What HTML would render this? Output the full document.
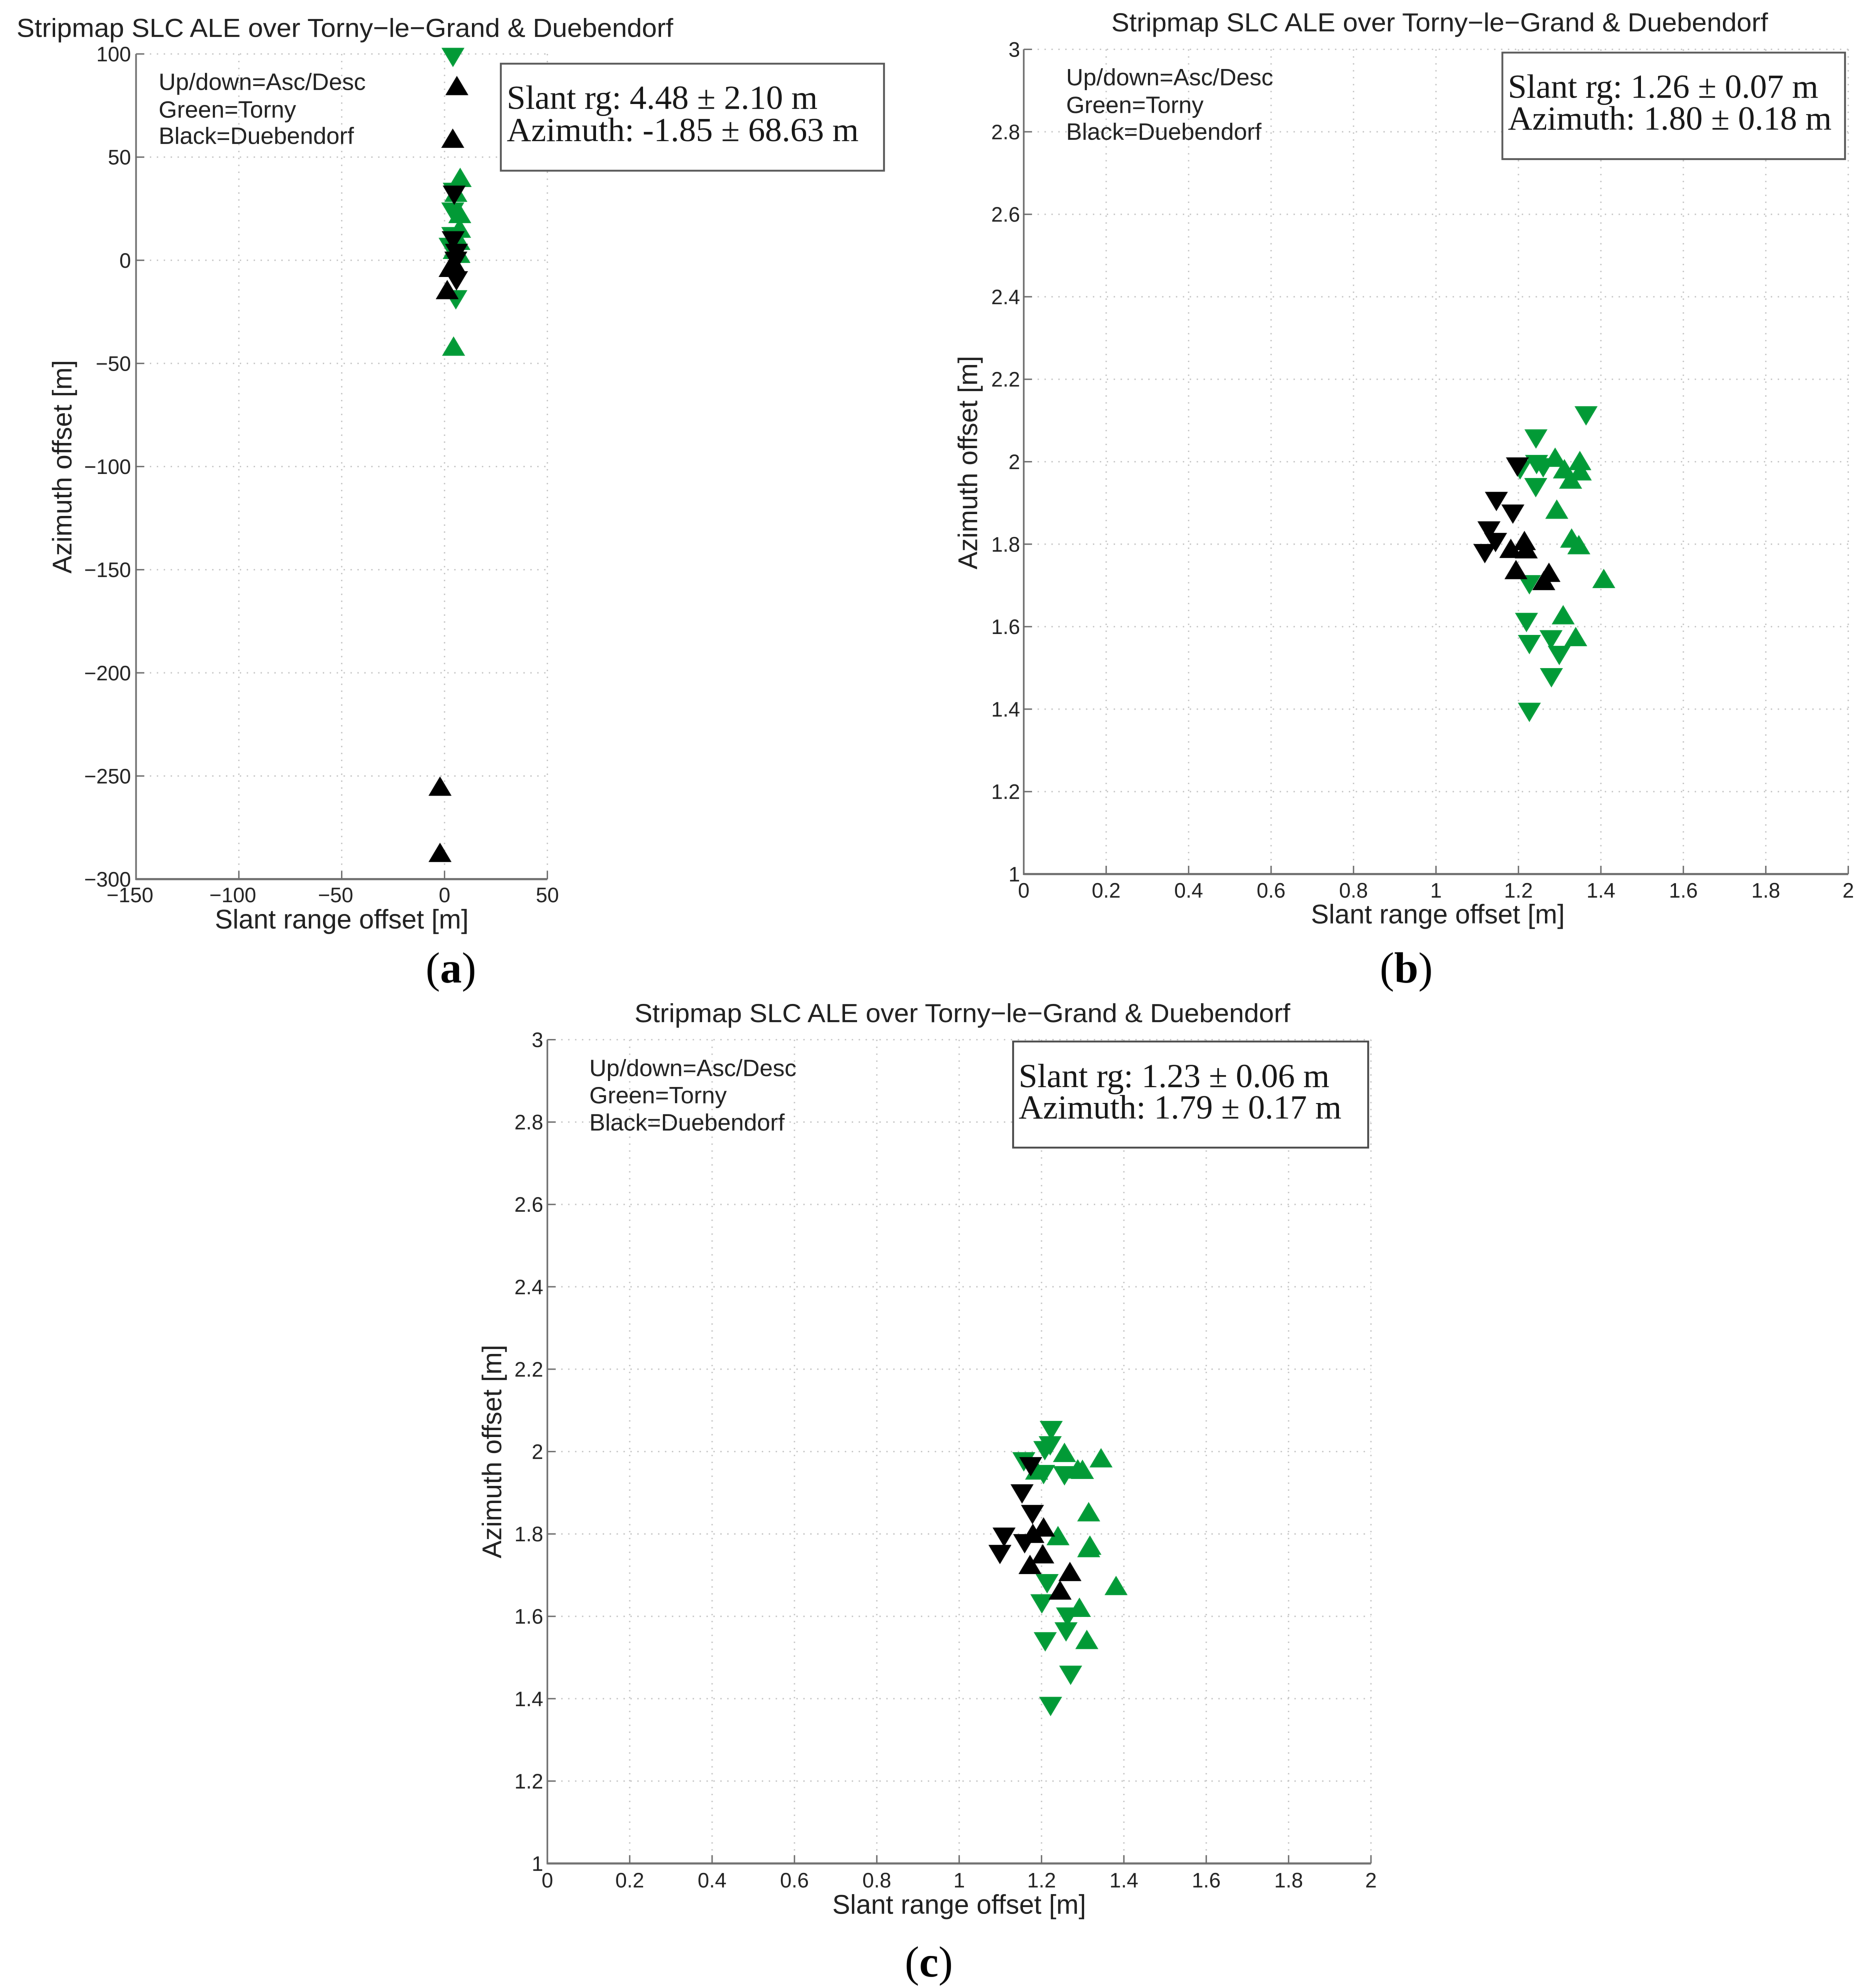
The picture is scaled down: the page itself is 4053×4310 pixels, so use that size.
<!DOCTYPE html>
<html lang="en">
<head>
<meta charset="utf-8">
<title>Stripmap SLC ALE over Torny-le-Grand &amp; Duebendorf</title>
<style>
html,body{margin:0;padding:0;background:#fff;}
svg{display:block;filter:blur(0.9px);}
.sans{font-family:"Liberation Sans",Arial,sans-serif;fill:#1a1a1a;}
.serif{font-family:"Liberation Serif","Times New Roman",serif;fill:#111;}
.title{font-size:57px;}
.axis-label{font-size:58px;}
.note{font-size:51.3px;}
.stat{font-size:73px;}
.caption{font-size:94px;fill:#000;}
</style>
</head>
<body>
<svg id="figure" xmlns="http://www.w3.org/2000/svg" width="4053" height="4310" viewBox="0 0 4053 4310">
  <rect x="0" y="0" width="4053" height="4310" fill="#fff"/>

  <g id="panel-a"></g>
  <g id="panel-b"></g>
  <g id="panel-c"></g>

  <g>
    <text class="sans title" x="36" y="80" textLength="1424" lengthAdjust="spacingAndGlyphs">Stripmap SLC ALE over Torny−le−Grand &amp; Duebendorf</text>
    <text class="sans axis-label" x="741" y="2013" text-anchor="middle">Slant range offset [m]</text>
    <text class="sans axis-label" transform="translate(155 1012) rotate(-90)" text-anchor="middle">Azimuth offset [m]</text>
    <text class="sans note" x="344" y="195">Up/down=Asc/Desc</text>
    <text class="sans note" x="344" y="255">Green=Torny</text>
    <text class="sans note" x="344" y="312">Black=Duebendorf</text>
    <rect x="1086" y="138" width="831" height="232" fill="#fff" stroke="#555" stroke-width="4"/>
    <text class="serif stat" x="1099" y="236" textLength="674" lengthAdjust="spacingAndGlyphs">Slant rg: 4.48 ± 2.10 m</text>
    <text class="serif stat" x="1099" y="306" textLength="763" lengthAdjust="spacingAndGlyphs">Azimuth: -1.85 ± 68.63 m</text>
    <text class="serif caption" x="923" y="2130">(<tspan font-weight="bold">a</tspan>)</text>
  </g>

  <g>
    <text class="sans title" x="2410" y="68" textLength="1424" lengthAdjust="spacingAndGlyphs">Stripmap SLC ALE over Torny−le−Grand &amp; Duebendorf</text>
    <text class="sans axis-label" x="3118" y="2002" text-anchor="middle">Slant range offset [m]</text>
    <text class="sans axis-label" transform="translate(2119 1003) rotate(-90)" text-anchor="middle">Azimuth offset [m]</text>
    <text class="sans note" x="2312" y="185">Up/down=Asc/Desc</text>
    <text class="sans note" x="2312" y="245">Green=Torny</text>
    <text class="sans note" x="2312" y="303">Black=Duebendorf</text>
    <rect x="3258" y="114" width="743" height="231" fill="#fff" stroke="#555" stroke-width="4"/>
    <text class="serif stat" x="3270" y="212" textLength="673" lengthAdjust="spacingAndGlyphs">Slant rg: 1.26 ± 0.07 m</text>
    <text class="serif stat" x="3270" y="281" textLength="702" lengthAdjust="spacingAndGlyphs">Azimuth: 1.80 ± 0.18 m</text>
    <text class="serif caption" x="2992" y="2130">(<tspan font-weight="bold">b</tspan>)</text>
  </g>

  <g>
    <text class="sans title" x="1376" y="2216" textLength="1422" lengthAdjust="spacingAndGlyphs">Stripmap SLC ALE over Torny−le−Grand &amp; Duebendorf</text>
    <text class="sans axis-label" x="2080" y="4149" text-anchor="middle">Slant range offset [m]</text>
    <text class="sans axis-label" transform="translate(1087 3147) rotate(-90)" text-anchor="middle">Azimuth offset [m]</text>
    <text class="sans note" x="1278" y="2333">Up/down=Asc/Desc</text>
    <text class="sans note" x="1278" y="2392">Green=Torny</text>
    <text class="sans note" x="1278" y="2451">Black=Duebendorf</text>
    <rect x="2197" y="2258" width="770" height="230" fill="#fff" stroke="#444" stroke-width="4"/>
    <text class="serif stat" x="2209" y="2357" textLength="674" lengthAdjust="spacingAndGlyphs">Slant rg: 1.23 ± 0.06 m</text>
    <text class="serif stat" x="2209" y="2425" textLength="700" lengthAdjust="spacingAndGlyphs">Azimuth: 1.79 ± 0.17 m</text>
    <text class="serif caption" x="1962" y="4285">(<tspan font-weight="bold">c</tspan>)</text>
  </g>
</svg>

<script>
/* ---------- Panel (a) data ---------- */
const aXTickLabels = ["−150", "−100", "−50", "0", "50"];
const aXTickValues = [-150, -100, -50, 0, 50];
const aYTickLabels = ["100", "50", "0", "−50", "−100", "−150", "−200", "−250", "−300"];
const aYTickValues = [100, 50, 0, -50, -100, -150, -200, -250, -300];
const aGreenDownX = [4.1, 4.7, 4.0, 4.0, 2.7, 5.5];
const aGreenDownY = [98.3, 32.9, 23.3, 11.4, 6.2, -19.2];
const aGreenUpX = [7.6, 4.4, 5.5, 7.4, 7.3, 7.0, 7.0, 4.7];
const aGreenUpY = [40.2, -41.6, 33.0, 22.7, 15.6, 9.7, 3.4, 5.3];
const aBlackDownX = [4.7, 4.2, 5.8, 5.5, 5.8];
const aBlackDownY = [31.5, 9.4, 3.3, -0.5, -10.0];
const aBlackUpX = [6.0, 4.0, 2.7, 1.3, 4.3, -2.2, -2.2];
const aBlackUpY = [84.7, 59.2, -3.4, -14.2, -0.7, -254.9, -287.0];

/* ---------- Panel (b) data ---------- */
const bcXTickLabels = ["0", "0.2", "0.4", "0.6", "0.8", "1", "1.2", "1.4", "1.6", "1.8", "2"];
const bcXTickValues = [0, 0.2, 0.4, 0.6, 0.8, 1, 1.2, 1.4, 1.6, 1.8, 2];
const bcYTickLabels = ["3", "2.8", "2.6", "2.4", "2.2", "2", "1.8", "1.6", "1.4", "1.2", "1"];
const bcYTickValues = [3, 2.8, 2.6, 2.4, 2.2, 2, 1.8, 1.6, 1.4, 1.2, 1];
const bGreenDownX = [1.364, 1.2425, 1.244, 1.204, 1.26, 1.242, 1.2265, 1.2195, 1.2265, 1.279, 1.299, 1.28, 1.2265];
const bGreenDownY = [2.111, 2.055, 1.993, 1.98, 1.985, 1.937, 1.7015, 1.61, 1.5565, 1.568, 1.53, 1.476, 1.392];
const bGreenUpX = [1.289, 1.3115, 1.349, 1.35, 1.3265, 1.293, 1.329, 1.3465, 1.407, 1.3085, 1.339];
const bGreenUpY = [2.011, 1.983, 2.003, 1.978, 1.958, 1.885, 1.815, 1.799, 1.717, 1.629, 1.576];
const bBlackDownX = [1.1975, 1.1465, 1.1865, 1.1285, 1.1445, 1.1185];
const bBlackDownY = [1.987, 1.9035, 1.8727, 1.832, 1.804, 1.777];
const bBlackUpX = [1.1815, 1.2145, 1.219, 1.194, 1.274, 1.2615];
const bBlackUpY = [1.79, 1.809, 1.789, 1.7386, 1.732, 1.712];

/* ---------- Panel (c) data ---------- */
const cGreenDownX = [1.2235, 1.221, 1.208, 1.157, 1.205, 1.2557, 1.2136, 1.2008, 1.263, 1.2595, 1.209, 1.2707, 1.222];
const cGreenDownY = [2.051, 2.0137, 2.002, 1.975, 1.944, 1.941, 1.679, 1.63, 1.598, 1.562, 1.538, 1.4567, 1.381];
const cGreenUpX = [1.2557, 1.288, 1.2994, 1.3445, 1.188, 1.3145, 1.24, 1.3175, 1.3145, 1.381, 1.292, 1.31];
const cGreenUpY = [1.998, 1.958, 1.957, 1.985, 1.9555, 1.854, 1.796, 1.773, 1.767, 1.675, 1.622, 1.544];
const cBlackDownX = [1.1737, 1.1527, 1.178, 1.109, 1.159, 1.099];
const cBlackDownY = [1.963, 1.897, 1.847, 1.792, 1.776, 1.75];
const cBlackUpX = [1.179, 1.205, 1.203, 1.172, 1.269, 1.245];
const cBlackUpY = [1.8016, 1.817, 1.752, 1.726, 1.709, 1.664];

const SVG_NS = "http://www.w3.org/2000/svg";
const GREEN = "#029a36";
const BLACK = "#000000";
const AXIS_COLOR = "#6a6a6a";
const GRID_COLOR = "#c2c2c2";

function linearScale(d0, d1, r0, r1) {
  return function (v) { return r0 + (v - d0) / (d1 - d0) * (r1 - r0); };
}

function addLine(parent, x1, y1, x2, y2, color, width, dash) {
  const line = document.createElementNS(SVG_NS, "line");
  line.setAttribute("x1", x1);
  line.setAttribute("y1", y1);
  line.setAttribute("x2", x2);
  line.setAttribute("y2", y2);
  line.setAttribute("stroke", color);
  line.setAttribute("stroke-width", width);
  if (dash) { line.setAttribute("stroke-dasharray", dash); }
  parent.appendChild(line);
  return line;
}

function addTickText(parent, x, y, anchor, label) {
  const t = document.createElementNS(SVG_NS, "text");
  t.setAttribute("x", x);
  t.setAttribute("y", y);
  t.setAttribute("text-anchor", anchor);
  t.setAttribute("class", "sans");
  t.setAttribute("font-size", "45");
  t.textContent = label;
  parent.appendChild(t);
  return t;
}

function drawMarkers(parent, sx, sy, xs, ys, direction, color, name) {
  const halfW = 25, halfH = 21;
  xs.forEach(function (xv, i) {
    const cx = sx(xv), cy = sy(ys[i]);
    const tipY = direction === "up" ? cy - halfH : cy + halfH;
    const baseY = direction === "up" ? cy + halfH : cy - halfH;
    const tri = document.createElementNS(SVG_NS, "polygon");
    tri.setAttribute("points", cx + "," + tipY + " " + (cx - halfW) + "," + baseY + " " + (cx + halfW) + "," + baseY);
    tri.setAttribute("fill", color);
    
    
    parent.appendChild(tri);
  });
}

function drawPanel(cfg) {
  const root = document.getElementById(cfg.id);
  const sx = linearScale(cfg.xMin, cfg.xMax, cfg.left, cfg.right);
  const sy = linearScale(cfg.yMin, cfg.yMax, cfg.bottom, cfg.top);

  cfg.xTicks.forEach(function (v, i) {
    const x = sx(v);
    if (v !== cfg.xMin) {
      const g = addLine(root, x, cfg.top, x, cfg.bottom, GRID_COLOR, 3, "3 12");
      
      
    }
    const tick = addLine(root, x, cfg.bottom, x, cfg.bottom - 18, AXIS_COLOR, 3);
    
    
    const label = cfg.xLabels[i];
    let lbl;
    if (v < 0) {
      const digits = label.length - 1;
      lbl = addTickText(root, x + digits * 12.5, cfg.bottom + cfg.xLabelGap, "end", label);
    } else {
      lbl = addTickText(root, x, cfg.bottom + cfg.xLabelGap, "middle", label);
    }
    
    
  });

  cfg.yTicks.forEach(function (v, i) {
    const y = sy(v);
    if (v !== cfg.yMin) {
      const g = addLine(root, cfg.left, y, cfg.right, y, GRID_COLOR, 3, "3 12");
      
      
    }
    const tick = addLine(root, cfg.left, y, cfg.left + 18, y, AXIS_COLOR, 3);
    
    
    const lbl = addTickText(root, cfg.left - cfg.yLabelGap, y + 16, "end", cfg.yLabels[i]);
    
    
  });

  const yAxis = addLine(root, cfg.left, cfg.top, cfg.left, cfg.bottom + 2, AXIS_COLOR, 3.5);
  
  
  const xAxis = addLine(root, cfg.left, cfg.bottom, cfg.right, cfg.bottom, AXIS_COLOR, 4.5);
  
  

  drawMarkers(root, sx, sy, cfg.greenDownX, cfg.greenDownY, "down", GREEN, "torny-descending-marker");
  drawMarkers(root, sx, sy, cfg.greenUpX, cfg.greenUpY, "up", GREEN, "torny-ascending-marker");
  drawMarkers(root, sx, sy, cfg.blackDownX, cfg.blackDownY, "down", BLACK, "duebendorf-descending-marker");
  drawMarkers(root, sx, sy, cfg.blackUpX, cfg.blackUpY, "up", BLACK, "duebendorf-ascending-marker");
}

drawPanel({
  id: "panel-a", left: 295, right: 1187, top: 117, bottom: 1906,
  xMin: -150, xMax: 50, yMin: -300, yMax: 100, xLabelGap: 50, yLabelGap: 11,
  xTicks: aXTickValues, xLabels: aXTickLabels, yTicks: aYTickValues, yLabels: aYTickLabels,
  greenDownX: aGreenDownX, greenDownY: aGreenDownY, greenUpX: aGreenUpX, greenUpY: aGreenUpY,
  blackDownX: aBlackDownX, blackDownY: aBlackDownY, blackUpX: aBlackUpX, blackUpY: aBlackUpY
});
drawPanel({
  id: "panel-b", left: 2220, right: 4008, top: 107, bottom: 1895,
  xMin: 0, xMax: 2, yMin: 1, yMax: 3, xLabelGap: 51, yLabelGap: 8,
  xTicks: bcXTickValues, xLabels: bcXTickLabels, yTicks: bcYTickValues, yLabels: bcYTickLabels,
  greenDownX: bGreenDownX, greenDownY: bGreenDownY, greenUpX: bGreenUpX, greenUpY: bGreenUpY,
  blackDownX: bBlackDownX, blackDownY: bBlackDownY, blackUpX: bBlackUpX, blackUpY: bBlackUpY
});
drawPanel({
  id: "panel-c", left: 1187, right: 2973, top: 2254, bottom: 4040,
  xMin: 0, xMax: 2, yMin: 1, yMax: 3, xLabelGap: 52, yLabelGap: 9,
  xTicks: bcXTickValues, xLabels: bcXTickLabels, yTicks: bcYTickValues, yLabels: bcYTickLabels,
  greenDownX: cGreenDownX, greenDownY: cGreenDownY, greenUpX: cGreenUpX, greenUpY: cGreenUpY,
  blackDownX: cBlackDownX, blackDownY: cBlackDownY, blackUpX: cBlackUpX, blackUpY: cBlackUpY
});
</script>
</body>
</html>
